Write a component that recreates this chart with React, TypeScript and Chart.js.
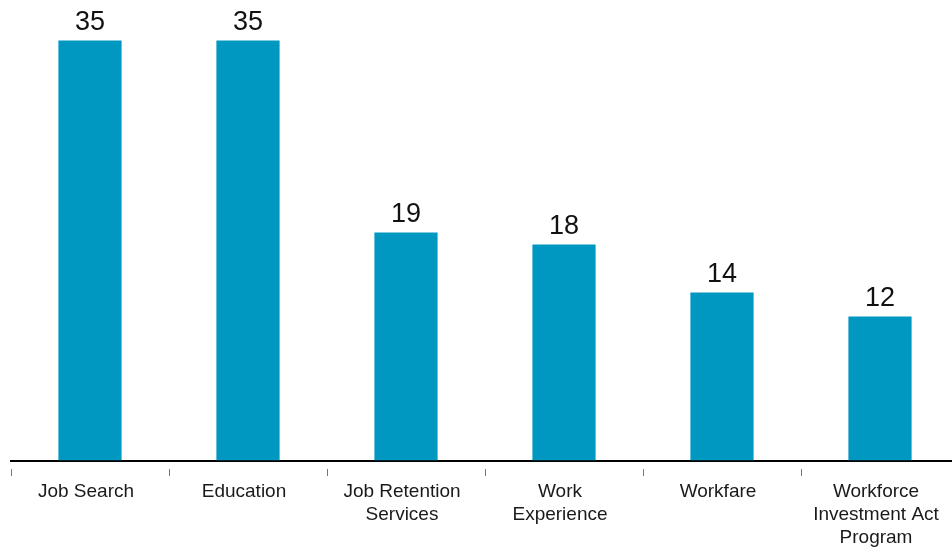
import React, { useEffect, useRef } from "react";
import { Chart, registerables } from "chart.js";

Chart.register(...registerables);

const categories: (string | string[])[] = [
  "Job Search",
  "Education",
  ["Job Retention", "Services"],
  ["Work", "Experience"],
  "Workfare",
  ["Workforce", "Investment Act", "Program"],
];
const values: number[] = [35, 35, 19, 18, 14, 12];

const BAR_COLOR = "#0097c1";

const valueLabelPlugin = {
  id: "valueLabels",
  afterDatasetsDraw(chart: any) {
    const ctx = chart.ctx;
    const meta = chart.getDatasetMeta(0);
    ctx.save();
    ctx.fillStyle = "#111111";
    ctx.font = "27px 'Liberation Sans', Arial, sans-serif";
    ctx.textAlign = "center";
    ctx.textBaseline = "alphabetic";
    meta.data.forEach((bar: any, i: number) => {
      ctx.fillText(String(values[i]), bar.x, bar.y - 10.5);
    });
    ctx.restore();
  },
};

const tickMarkPlugin = {
  id: "tickMarks",
  afterDraw(chart: any) {
    const ctx = chart.ctx;
    const n = categories.length;
    const { left, right, bottom } = chart.chartArea;
    const step = (right - left) / n;
    ctx.save();
    ctx.strokeStyle = "#777777";
    ctx.lineWidth = 1;
    for (let i = 0; i <= n; i++) {
      const x = Math.round(left + i * step) + 0.5;
      ctx.beginPath();
      ctx.moveTo(x, bottom + 8.5);
      ctx.lineTo(x, bottom + 15.5);
      ctx.stroke();
    }
    ctx.restore();
  },
};

export default function App() {
  const ref = useRef<HTMLCanvasElement | null>(null);
  useEffect(() => {
    if (!ref.current) return;
    const chart = new Chart(ref.current, {
      type: "bar",
      data: {
        labels: categories,
        datasets: [
          {
            data: values,
            backgroundColor: BAR_COLOR,
            borderWidth: 0,
            barPercentage: 0.4,
            categoryPercentage: 1,
          },
        ],
      },
      options: {
        animation: false,
        responsive: false,
        devicePixelRatio: 1,
        layout: { padding: { left: 11, right: 1, top: 4.5, bottom: 0 } },
        plugins: {
          legend: { display: false },
          tooltip: { enabled: false },
          title: { display: false },
        },
        scales: {
          x: {
            grid: { display: false, drawTicks: false },
            border: { display: true, color: "#000000", width: 2 },
            ticks: {
              color: "#1a1a1a",
              padding: 20,
              labelOffset: -4,
              maxRotation: 0,
              autoSkip: false,
              font: { family: "'Liberation Sans', Arial, sans-serif", size: 19, lineHeight: 1.2 },
            },
            afterFit: (s: any) => {
              s.height = 87.5;
              s.paddingLeft = 0;
              s.paddingRight = 0;
            },
          },
          y: {
            display: false,
            min: 0,
            max: 38,
          },
        },
      },
      plugins: [valueLabelPlugin, tickMarkPlugin],
    });
    return () => chart.destroy();
  }, []);
  return (
    <div
      style={{
        position: "fixed",
        left: 0,
        top: 0,
        width: 952,
        height: 548,
        overflow: "hidden",
        background: "#ffffff",
      }}
    >
      <canvas ref={ref} width={960} height={548} style={{ display: "block" }} />
    </div>
  );
}
